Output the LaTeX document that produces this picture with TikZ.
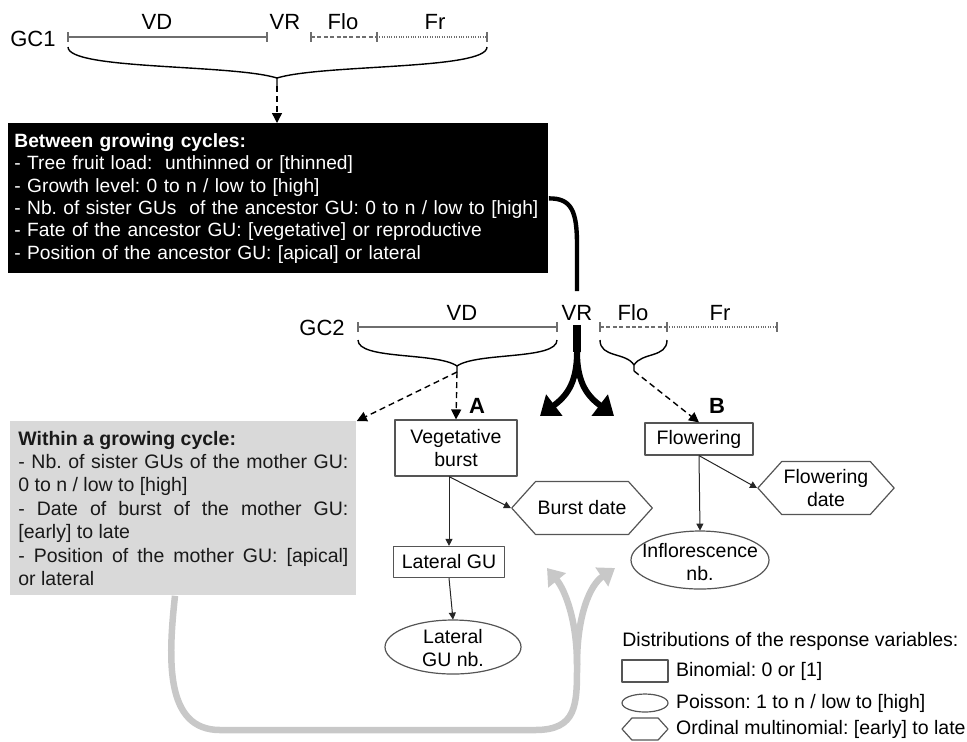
\documentclass[tikz,border=0pt]{standalone}
\usepackage{fontspec}
\setmainfont{Liberation Sans}
\frenchspacing
\usetikzlibrary{arrows.meta,shapes.symbols,shapes.geometric,positioning}
\definecolor{boxgrey}{RGB}{217,217,217}
\definecolor{loopgrey}{RGB}{200,200,200}
\definecolor{phasegrey}{RGB}{110,110,110}
\definecolor{edgegrey}{RGB}{85,85,85}
\begin{document}
\begin{tikzpicture}[x=0.5pt, y=-0.5pt, >={Triangle[length=3.5pt,width=3.5pt]}, line join=round,
	font=\fontsize{9.75}{11.2}\selectfont,
	phase/.style={phasegrey, line width=0.6pt},
	phaselabel/.style={font=\fontsize{11}{13}\selectfont, inner sep=2pt},
	brace/.style={line width=0.7pt},
	dasharrow/.style={line width=0.7pt, dash pattern=on 3pt off 2pt, -{Triangle[length=5pt,width=5pt]}},
	thinarrow/.style={black!85, line width=0.5pt, ->},
	resp/.style={draw=edgegrey, line width=0.6pt, align=center, inner sep=1pt},
	ordinal/.style={resp, shape=signal, signal to=west and east, signal pointer angle=96},
	legtext/.style={inner sep=0pt}]
	\useasboundingbox (0,0) rectangle (967,741);
	\path (68,37) coordinate (a1) (267,37) coordinate (b1) (311,37) coordinate (c1) (377,37) coordinate (d1) (487,37) coordinate (e1)
		(358,327) coordinate (a2) (557,327) coordinate (b2) (600,327) coordinate (c2) (667,327) coordinate (d2) (777,327) coordinate (e2);
	\foreach \i in {1,2}{
		\draw[phase] (a\i)--(b\i);
		\draw[phase, dash pattern=on 2pt off 1.2pt] (c\i)--(d\i);
		\draw[phase, dash pattern=on 0.5pt off 0.7pt] (d\i)--(e\i);
		\foreach \p in {a,b,c,d,e}
			\draw[phase] ([yshift=2.5pt]\p\i)--([yshift=-2.5pt]\p\i);
	}
	\node[phaselabel] (gc1) at (33,39) {GC1};
	\node[phaselabel] (gc2) at (322,328) {GC2};
	\foreach \t/\x/\xx in {VD/157/462,VR/285/577,Flo/343/633,Fr/435/720}{
		\node[phaselabel] (\t1) at (\x,22) {\t};
		\node[phaselabel] (\t2) at (\xx,313) {\t};
	}
	\draw[brace] (68,47) .. controls (68,70) and (231,64) .. (277,78) .. controls (323,64) and (487,70) .. (487,47)
		(277,78) -- (277,86) coordinate (tip1);
	\draw[brace] (358,340) .. controls (358,360) and (437,352) .. (457,366) .. controls (477,352) and (557,360) .. (557,340)
		(457,366) -- (457,372) coordinate (tip2);
	\draw[brace] (600,340) .. controls (600,358) and (626,352) .. (634,365) .. controls (642,352) and (667,358) .. (667,340)
		(634,365) -- (634,371) coordinate (tip3);
	\node[fill=black, text=white, align=left, anchor=north west, text width=264pt, minimum height=75pt, inner xsep=3pt,
		font=\fontsize{9.6}{11.2}\selectfont] (between) at (8,123) {%
		\textbf{Between growing cycles:}\\
		- Tree fruit load:~ unthinned or [thinned]\\
		- Growth level: 0 to n / low to [high]\\
		- Nb. of sister GUs~ of the ancestor GU: 0 to n / low to [high]\\
		- Fate of the ancestor GU: [vegetative] or reproductive\\
		- Position of the ancestor GU: [apical] or lateral};
	\node[fill=boxgrey, text=black!90, align=justify, anchor=north west, text width=165pt, minimum height=87pt, inner xsep=4pt,
		font=\fontsize{9.75}{11.7}\selectfont] (within) at (10,421) {%
		\textbf{Within a growing cycle:}\\
		- Nb. of sister GUs of the mother GU:\linebreak{} 0 to n / low to [high]\\
		- Date of burst of the mother GU:\linebreak{} [early] to late\\
		- Position of the mother GU: [apical]\linebreak{} or lateral};
	\node[resp, minimum width=61pt, minimum height=28pt] (burst) at (456,448) {Vegetative\\burst};
	\node[resp, minimum width=54pt, minimum height=16pt] (flower) at (699,439) {Flowering};
	\node[resp, minimum width=55.5pt, minimum height=15.5pt] (lateral) at (449,562) {Lateral GU};
	\node[ordinal, minimum width=68.5pt, minimum height=26.5pt] (burstdate) at (582,508) {Burst date};
	\node[ordinal, minimum width=66.5pt, minimum height=26.5pt] (flowerdate) at (826,488) {Flowering\\date};
	\node[align=center, minimum width=68pt, minimum height=27pt, inner sep=0pt] (lateralnb) at (453,648) {Lateral\\GU nb.};
	\node[align=center, minimum width=68pt, minimum height=29pt, inner sep=0pt] (inflnb) at (700,562) {Inflorescence\\nb.};
	\draw[edgegrey, line width=0.6pt] ([yshift=0.5pt]lateralnb.center) ellipse [x radius=34pt, y radius=13.5pt]
		([yshift=1pt]inflnb.center) ellipse [x radius=34.5pt, y radius=14.5pt];
	\draw[thinarrow] (lateral.north |- burst.south) coordinate (bs) -- (lateral.north);
	\draw[thinarrow] (bs) -- (burstdate.west);
	\draw[thinarrow] (lateral.south) -- ([yshift=0.5pt]lateralnb.north);
	\draw[thinarrow] (flower.south) -- ([yshift=1pt]inflnb.north);
	\draw[thinarrow] (flower.south) -- (flowerdate.west);
	\draw[dasharrow] (tip1) -- (tip1 |- between.north);
	\draw[dasharrow] (tip2) -- (burst.north);
	\draw[dasharrow] (tip2) -- (within.north east);
	\draw[dasharrow] (tip3) -- (flower.north);
	\node[font=\bfseries\fontsize{11}{13}\selectfont] (labA) at (477,406) {A};
	\node[font=\bfseries\fontsize{11}{13}\selectfont] (labB) at (717,406) {B};
	\draw[line width=2.2pt] (between.east) .. controls (572,198) and (577,212) .. (577,245) -- ([yshift=5pt]VR2.north);
	\draw[line width=4pt] (VR2.south) -- (577,352) coordinate (split);
	\foreach \c/\e in {565/540,589/614}
		\draw[line width=3pt, -{Triangle[length=9pt,width=13pt]}] (split) .. controls (577,385) and (\c,397) .. (\e,416);
	\draw[loopgrey, line width=3.25pt] ([xshift=82.5pt]within.south west) .. controls (168,660) and (165,730) .. (220,730)
		-- (535,730) .. controls (577,730) and (577,705) .. (577,665) coordinate (rejoin);
	\foreach \ya/\cx/\cy/\ex in {620/565/590/547,615/590/585/615}
		\draw[loopgrey, line width=3.25pt, -{Triangle[length=8pt,width=11pt]}] (rejoin) .. controls (577,\ya) and (\cx,\cy) .. (\ex,568);
	\node[legtext, anchor=west] (legend) at (622,641) {Distributions of the response variables:};
	\node[resp, minimum width=23pt, minimum height=11pt, inner sep=0pt] (legbinom) at (645,671) {};
	\node[draw=edgegrey, line width=0.6pt, ellipse, minimum width=23pt, minimum height=9pt, inner sep=0pt] (legpois) at (645,703) {};
	\node[ordinal, minimum width=23pt, minimum height=11pt, inner sep=0pt] (legord) at (645,729) {};
	\foreach \n/\t in {legbinom/{Binomial: 0 or [1]},legpois/{Poisson: 1 to n / low to [high]},legord/{Ordinal multinomial: [early] to late}}
		\node[legtext, right=3.5pt of \n] (\n-t) {\t};
\end{tikzpicture}
\end{document}
